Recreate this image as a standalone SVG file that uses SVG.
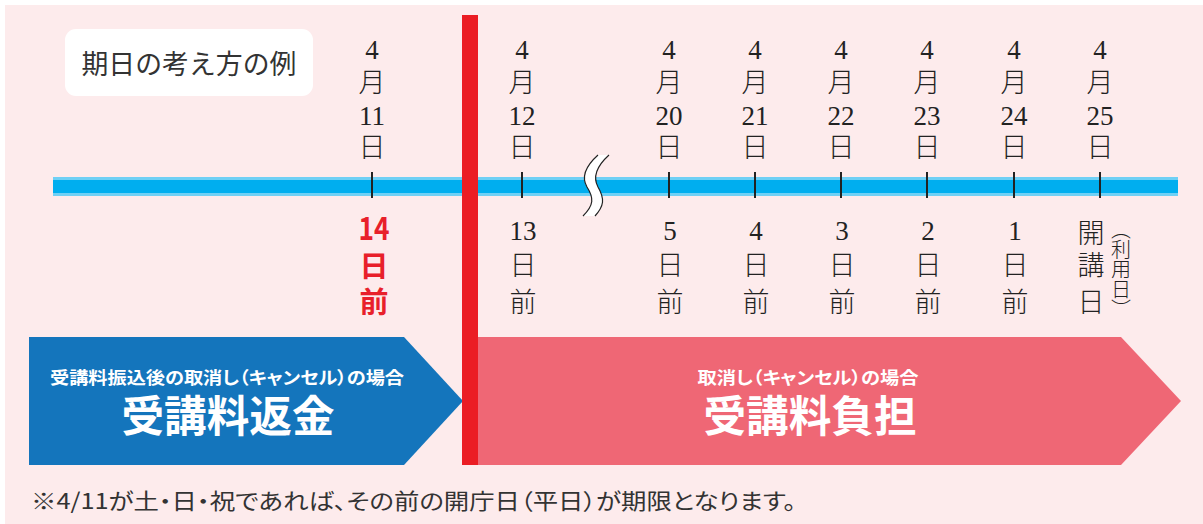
<svg xmlns="http://www.w3.org/2000/svg" width="1203" height="524" viewBox="0 0 1203 524">
<style>
.d{font-family:"Liberation Serif","Noto Sans CJK JP",serif;font-size:27px;fill:#222;text-anchor:middle}
.k{font-family:"Noto Sans CJK JP",sans-serif;font-size:27px;font-weight:300;fill:#222;text-anchor:middle;dominant-baseline:central}
.r{font-family:"Noto Sans CJK JP",sans-serif;font-weight:700;fill:#E8202A;text-anchor:middle}
.w{font-family:"Noto Sans CJK JP",sans-serif;font-weight:700;fill:#fff;text-anchor:middle;dominant-baseline:central;font-feature-settings:"palt"}
.tick{stroke:#222;stroke-width:2}
</style>
<rect x="5" y="5" width="1198" height="519" fill="#FDEBEC"/>
<g id="title">
<rect x="65" y="29" width="248" height="67" rx="11" fill="#fff"/>
<text x="189" y="62" font-family="Noto Sans CJK JP,sans-serif" font-size="27" fill="#333" text-anchor="middle" dominant-baseline="central" textLength="215" lengthAdjust="spacingAndGlyphs">期日の考え方の例</text>
</g>
<g id="timeline">
<rect x="53" y="177" width="1125" height="19" fill="#6FD0F5"/>
<rect x="53" y="180" width="1125" height="13" fill="#00AEEF"/>
<path d="M598,155 L609,155 C598,165 592,176 598,187 C605,199 604,206 595,216 L583,216 C594,205 594,198 587,187 C580,175 588,164 598,155 Z" fill="#fff"/>
<path d="M598,155 C588,164 580,175 587,187 C594,198 594,205 583,216 M609,155 C598,165 592,176 598,187 C605,199 604,206 595,216" fill="none" stroke="#222" stroke-width="1.2"/>
</g>
<g id="d11">
<text class="d" x="372" y="59">4</text><text class="k" x="372" y="80.5">月</text><text class="d" x="372" y="125">11</text><text class="k" x="372" y="145">日</text>
<line class="tick" x1="372" y1="172" x2="372" y2="198"/>
<text class="r" x="374" y="240" font-size="32" textLength="31" lengthAdjust="spacingAndGlyphs">14</text>
<text class="r" x="374" y="264" font-size="29" dominant-baseline="central">日</text>
<text class="r" x="374" y="300" font-size="29" dominant-baseline="central">前</text>
</g>
<g id="d12">
<text class="d" x="522" y="59">4</text><text class="k" x="522" y="80.5">月</text><text class="d" x="522" y="125">12</text><text class="k" x="522" y="145">日</text>
<line class="tick" x1="522" y1="172" x2="522" y2="198"/>
<text class="d" x="523" y="240">13</text><text class="k" x="523" y="263">日</text><text class="k" x="523" y="300">前</text>
</g>
<g id="d20">
<text class="d" x="669" y="59">4</text><text class="k" x="669" y="80.5">月</text><text class="d" x="669" y="125">20</text><text class="k" x="669" y="145">日</text>
<line class="tick" x1="669" y1="172" x2="669" y2="198"/>
<text class="d" x="670" y="240">5</text><text class="k" x="670" y="263">日</text><text class="k" x="670" y="300">前</text>
</g>
<g id="d21">
<text class="d" x="755" y="59">4</text><text class="k" x="755" y="80.5">月</text><text class="d" x="755" y="125">21</text><text class="k" x="755" y="145">日</text>
<line class="tick" x1="755" y1="172" x2="755" y2="198"/>
<text class="d" x="756" y="240">4</text><text class="k" x="756" y="263">日</text><text class="k" x="756" y="300">前</text>
</g>
<g id="d22">
<text class="d" x="841" y="59">4</text><text class="k" x="841" y="80.5">月</text><text class="d" x="841" y="125">22</text><text class="k" x="841" y="145">日</text>
<line class="tick" x1="841" y1="172" x2="841" y2="198"/>
<text class="d" x="842" y="240">3</text><text class="k" x="842" y="263">日</text><text class="k" x="842" y="300">前</text>
</g>
<g id="d23">
<text class="d" x="927" y="59">4</text><text class="k" x="927" y="80.5">月</text><text class="d" x="927" y="125">23</text><text class="k" x="927" y="145">日</text>
<line class="tick" x1="927" y1="172" x2="927" y2="198"/>
<text class="d" x="928" y="240">2</text><text class="k" x="928" y="263">日</text><text class="k" x="928" y="300">前</text>
</g>
<g id="d24">
<text class="d" x="1014" y="59">4</text><text class="k" x="1014" y="80.5">月</text><text class="d" x="1014" y="125">24</text><text class="k" x="1014" y="145">日</text>
<line class="tick" x1="1014" y1="172" x2="1014" y2="198"/>
<text class="d" x="1015" y="240">1</text><text class="k" x="1015" y="263">日</text><text class="k" x="1015" y="300">前</text>
</g>
<g id="d25">
<text class="d" x="1100" y="59">4</text><text class="k" x="1100" y="80.5">月</text><text class="d" x="1100" y="125">25</text><text class="k" x="1100" y="145">日</text>
<line class="tick" x1="1100" y1="172" x2="1100" y2="198"/>
<text class="k" x="1091" y="231">開</text><text class="k" x="1091" y="263">講</text><text class="k" x="1091" y="300">日</text>
<text x="1121" y="219" font-family="Noto Sans CJK JP,sans-serif" font-size="20" font-weight="300" fill="#222" writing-mode="vertical-rl" style="writing-mode:vertical-rl">（利用日）</text>
</g>
<g id="refund">
<polygon points="29,337 404,337 463,401 404,465 29,465" fill="#1475BC"/>
<text class="w" x="227" y="376.5" font-size="17.5" textLength="354" lengthAdjust="spacingAndGlyphs">受講料振込後の取消し（キャンセル）の場合</text>
<text class="w" x="228" y="412.5" font-size="43" textLength="213" lengthAdjust="spacingAndGlyphs">受講料返金</text>
</g>
<g id="burden">
<polygon points="477,337 1121,337 1181,401 1121,465 477,465" fill="#EF6775"/>
<text class="w" x="808" y="376.5" font-size="17.5" textLength="221" lengthAdjust="spacingAndGlyphs">取消し（キャンセル）の場合</text>
<text class="w" x="810" y="412.5" font-size="43" textLength="213" lengthAdjust="spacingAndGlyphs">受講料負担</text>
</g>
<g id="deadline">
<rect x="462" y="15" width="16" height="450" fill="#EB1D24"/>
</g>
<g id="note">
<text x="31" y="498.5" font-family="Noto Sans CJK JP,sans-serif" font-size="22" fill="#333" dominant-baseline="central" style="font-feature-settings:'palt'" textLength="765" lengthAdjust="spacingAndGlyphs">※4/11が土・日・祝であれば、その前の開庁日（平日）が期限となります。</text>
</g>
</svg>
